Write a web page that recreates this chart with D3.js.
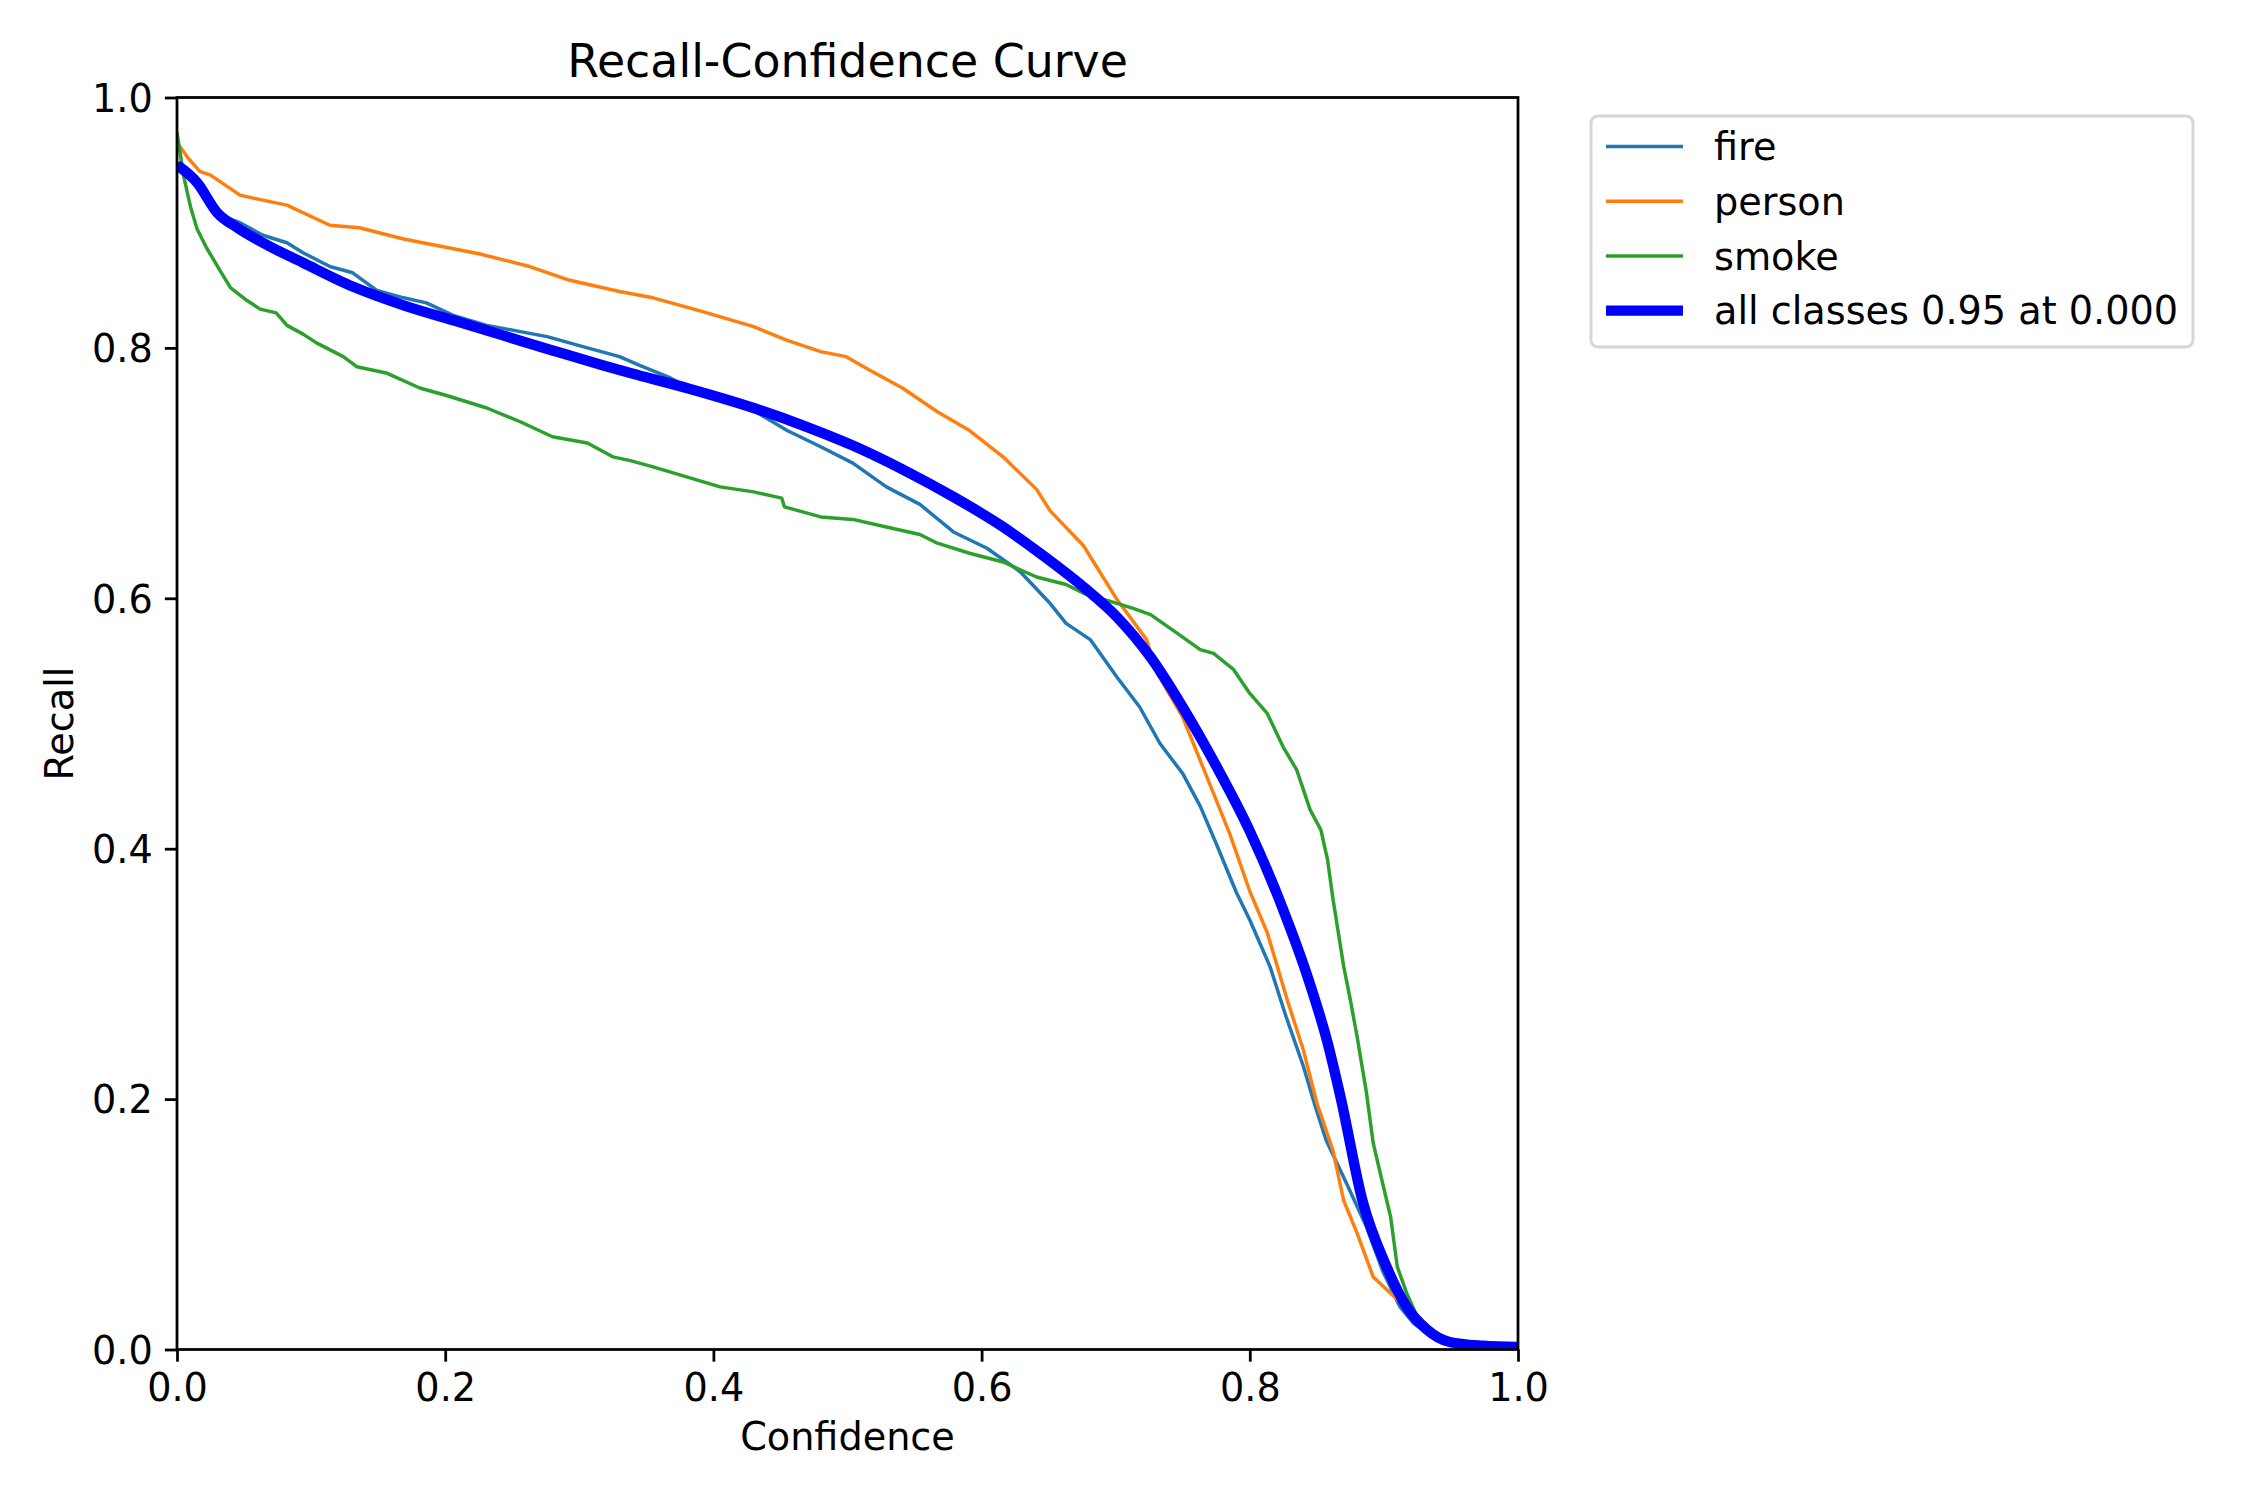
<!DOCTYPE html>
<html>
<head>
<meta charset="utf-8">
<script src="https://cdn.jsdelivr.net/npm/d3@7"></script>
<style>
  html, body { margin: 0; padding: 0; background: #ffffff; }
  svg { display: block; font-family: "DejaVu Sans", sans-serif; }
</style>
</head>
<body>
<svg id="chart" width="2250" height="1500"></svg>
<script>
// ---------------- data ----------------
const classNames = ["fire", "person", "smoke"];
const allLabel = "all classes 0.95 at 0.000";
const xTicks = [0, 0.2, 0.4, 0.6, 0.8, 1.0];
const yTicks = [0, 0.2, 0.4, 0.6, 0.8, 1.0];

const fireConf = [0, 0.015, 0.032, 0.047, 0.064, 0.082, 0.094, 0.114, 0.131, 0.149, 0.169, 0.186, 0.206, 0.231, 0.256, 0.276, 0.306, 0.330, 0.345, 0.368, 0.380, 0.405, 0.430, 0.455, 0.480, 0.504, 0.529, 0.554, 0.579, 0.604, 0.629, 0.651, 0.663, 0.681, 0.701, 0.718, 0.733, 0.750, 0.763, 0.775, 0.790, 0.800, 0.815, 0.827, 0.840, 0.848, 0.857, 0.872, 0.887, 0.899, 0.912, 0.922, 0.937, 0.949, 0.970, 1.0];
const fireRecall = [0.948, 0.930, 0.906, 0.900, 0.890, 0.884, 0.876, 0.865, 0.860, 0.846, 0.840, 0.836, 0.826, 0.818, 0.813, 0.809, 0.800, 0.793, 0.786, 0.776, 0.769, 0.760, 0.750, 0.734, 0.721, 0.708, 0.689, 0.675, 0.653, 0.640, 0.621, 0.596, 0.580, 0.567, 0.537, 0.513, 0.484, 0.460, 0.434, 0.404, 0.365, 0.343, 0.306, 0.266, 0.226, 0.197, 0.167, 0.133, 0.098, 0.063, 0.034, 0.021, 0.010, 0.004, 0.001, 0];

const personConf = [0, 0.008, 0.017, 0.025, 0.047, 0.064, 0.082, 0.114, 0.136, 0.169, 0.226, 0.263, 0.293, 0.330, 0.355, 0.392, 0.430, 0.455, 0.480, 0.499, 0.517, 0.541, 0.567, 0.591, 0.616, 0.641, 0.651, 0.676, 0.701, 0.723, 0.731, 0.750, 0.770, 0.785, 0.800, 0.813, 0.828, 0.840, 0.850, 0.862, 0.870, 0.880, 0.892, 0.905, 0.914, 0.930, 0.950, 0.970, 1.0];
const personRecall = [0.964, 0.952, 0.941, 0.938, 0.922, 0.918, 0.914, 0.898, 0.896, 0.887, 0.875, 0.865, 0.854, 0.845, 0.840, 0.829, 0.817, 0.806, 0.797, 0.793, 0.782, 0.768, 0.749, 0.734, 0.713, 0.687, 0.670, 0.642, 0.599, 0.567, 0.540, 0.505, 0.452, 0.412, 0.366, 0.333, 0.279, 0.239, 0.197, 0.159, 0.119, 0.093, 0.058, 0.045, 0.036, 0.015, 0.003, 0, 0];

const smokeConf = [0, 0.005, 0.010, 0.015, 0.022, 0.032, 0.040, 0.052, 0.062, 0.074, 0.082, 0.094, 0.104, 0.124, 0.134, 0.156, 0.181, 0.201, 0.231, 0.256, 0.280, 0.306, 0.325, 0.338, 0.355, 0.380, 0.405, 0.430, 0.451, 0.453, 0.480, 0.504, 0.529, 0.554, 0.567, 0.591, 0.616, 0.641, 0.663, 0.676, 0.701, 0.713, 0.726, 0.746, 0.763, 0.773, 0.788, 0.800, 0.813, 0.825, 0.835, 0.845, 0.853, 0.858, 0.862, 0.866, 0.870, 0.875, 0.880, 0.887, 0.892, 0.899, 0.905, 0.910, 0.917, 0.927, 0.939, 0.960, 1.0];
const smokeRecall = [0.972, 0.937, 0.913, 0.895, 0.880, 0.862, 0.848, 0.838, 0.831, 0.828, 0.818, 0.811, 0.804, 0.793, 0.785, 0.780, 0.768, 0.762, 0.752, 0.741, 0.729, 0.724, 0.713, 0.710, 0.705, 0.697, 0.689, 0.685, 0.680, 0.673, 0.665, 0.663, 0.657, 0.651, 0.644, 0.636, 0.629, 0.617, 0.611, 0.604, 0.596, 0.592, 0.587, 0.572, 0.559, 0.556, 0.543, 0.524, 0.508, 0.481, 0.463, 0.431, 0.415, 0.391, 0.360, 0.333, 0.306, 0.279, 0.250, 0.205, 0.165, 0.133, 0.106, 0.066, 0.045, 0.021, 0.008, 0.002, 0];

const allConf = [0, 0.015, 0.030, 0.045, 0.064, 0.094, 0.131, 0.169, 0.206, 0.243, 0.280, 0.318, 0.338, 0.380, 0.430, 0.467, 0.504, 0.541, 0.579, 0.616, 0.641, 0.676, 0.701, 0.726, 0.750, 0.775, 0.800, 0.825, 0.843, 0.858, 0.868, 0.884, 0.902, 0.917, 0.932, 0.949, 0.974, 1.0];
const allRecall = [0.946, 0.932, 0.908, 0.896, 0.884, 0.868, 0.849, 0.834, 0.822, 0.810, 0.798, 0.786, 0.780, 0.768, 0.752, 0.738, 0.722, 0.703, 0.681, 0.657, 0.638, 0.609, 0.585, 0.553, 0.513, 0.466, 0.414, 0.351, 0.298, 0.245, 0.200, 0.119, 0.066, 0.034, 0.016, 0.006, 0.003, 0.002];

const classColors = ["#1f77b4", "#ff7f0e", "#2ca02c"];
const allColor = "#0000ff";

// ---------------- layout ----------------
const svg = d3.select("#chart");
const L = 177, R = 1518, T = 97.5, B = 1349.5;
const PT = 250 / 72;      // px per point (lines)
const FPT = 275 / 72;     // px per point (text)
const fs = 10 * FPT;

const x = d3.scaleLinear().domain([0, 1]).range([L, R]);
const y = d3.scaleLinear().domain([0, 1]).range([B, T]);

svg.append("rect").attr("width", 2250).attr("height", 1500).attr("fill", "#fff");

svg.append("defs").append("clipPath").attr("id", "clip")
  .append("rect").attr("x", L).attr("y", T).attr("width", R - L).attr("height", B - T);

const line = d3.line().x(d => x(d[0])).y(d => y(d[1]));
const lineSmooth = d3.line().x(d => x(d[0])).y(d => y(d[1])).curve(d3.curveMonotoneX);

const series = [
  { conf: fireConf, rec: fireRecall },
  { conf: personConf, rec: personRecall },
  { conf: smokeConf, rec: smokeRecall }
];

const plot = svg.append("g").attr("clip-path", "url(#clip)");
series.forEach((s, i) => {
  const pts = s.conf.map((c, k) => [c, s.rec[k]]);
  plot.append("path").attr("d", line(pts))
    .attr("fill", "none").attr("stroke", classColors[i])
    .attr("stroke-width", 1 * PT).attr("stroke-linejoin", "round");
});
plot.append("path").attr("d", lineSmooth(allConf.map((c, k) => [c, allRecall[k]])))
  .attr("fill", "none").attr("stroke", allColor)
  .attr("stroke-width", 3 * PT).attr("stroke-linejoin", "round");

// axes
const tickLen = 3.5 * PT, tickW = 0.8 * PT;
const xAxis = svg.append("g").attr("transform", `translate(0,${B})`)
  .call(d3.axisBottom(x).tickValues(xTicks).tickFormat(d3.format(".1f"))
    .tickSize(tickLen).tickSizeOuter(0).tickPadding(tickLen));
const yAxis = svg.append("g").attr("transform", `translate(${L},0)`)
  .call(d3.axisLeft(y).tickValues(yTicks).tickFormat(d3.format(".1f"))
    .tickSize(tickLen).tickSizeOuter(0).tickPadding(tickLen));
[xAxis, yAxis].forEach(a => {
  a.select(".domain").remove();
  a.selectAll(".tick line").attr("stroke", "#000").attr("stroke-width", tickW);
  a.selectAll(".tick text").attr("fill", "#000").attr("font-size", fs)
    .attr("font-family", "DejaVu Sans");
});
xAxis.selectAll(".tick text").attr("dy", "0.71em");
yAxis.selectAll(".tick text").attr("dy", "0.36em");

// spines
svg.append("rect").attr("x", L).attr("y", T).attr("width", R - L).attr("height", B - T)
  .attr("fill", "none").attr("stroke", "#000").attr("stroke-width", 0.8 * PT);

// title and labels
svg.append("text").attr("x", (L + R) / 2).attr("y", 77).attr("text-anchor", "middle")
  .attr("font-size", 12 * FPT).attr("fill", "#000").text("Recall-Confidence Curve");
svg.append("text").attr("x", (L + R) / 2).attr("y", 1450).attr("text-anchor", "middle")
  .attr("font-size", fs).attr("fill", "#000").text("Confidence");
svg.append("text").attr("transform", `translate(73,${(T + B) / 2}) rotate(-90)`)
  .attr("text-anchor", "middle").attr("font-size", fs).attr("fill", "#000").text("Recall");

// legend
const leg = svg.append("g");
leg.append("rect").attr("x", 1591).attr("y", 116).attr("width", 602).attr("height", 231)
  .attr("rx", 7).attr("fill", "#fff").attr("stroke", "#d6d6d6").attr("stroke-width", 3);
const legItems = classNames.map((n, i) => ({ label: n, color: classColors[i], w: 1 * PT }))
  .concat([{ label: allLabel, color: allColor, w: 3 * PT }]);
legItems.forEach((it, i) => {
  const base = 160.3 + i * 54.7;
  leg.append("line").attr("x1", 1606).attr("x2", 1683)
    .attr("y1", base - 13.8).attr("y2", base - 13.8)
    .attr("stroke", it.color).attr("stroke-width", it.w);
  leg.append("text").attr("x", 1714).attr("y", base).attr("font-size", fs)
    .attr("fill", "#000").text(it.label);
});
</script>
</body>
</html>
